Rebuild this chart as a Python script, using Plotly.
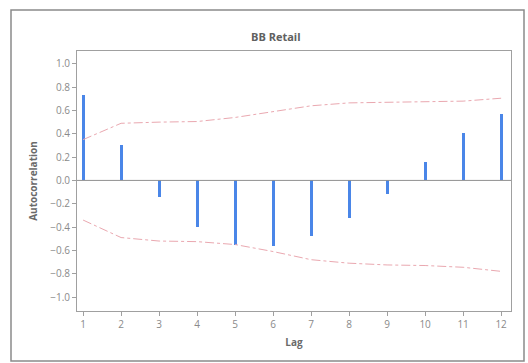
import plotly.graph_objects as go

lags = [1, 2, 3, 4, 5, 6, 7, 8, 9, 10, 11, 12]
acf = [0.73, 0.30, -0.14, -0.40, -0.55, -0.56, -0.48, -0.32, -0.12, 0.16, 0.41, 0.57]
upper = [0.35, 0.49, 0.50, 0.505, 0.54, 0.59, 0.64, 0.665, 0.67, 0.68, 0.68, 0.705]
lower = [-0.34, -0.49, -0.52, -0.525, -0.55, -0.61, -0.68, -0.71, -0.725, -0.73, -0.745, -0.78]
y_ticks = [-1.0, -0.8, -0.6, -0.4, -0.2, 0.0, 0.2, 0.4, 0.6, 0.8, 1.0]

FONT = "Open Sans"
fig = go.Figure()
fig.add_trace(go.Bar(x=lags, y=acf, width=0.075, marker=dict(color="#4a86e8", line=dict(width=0)),
                     showlegend=False))
band_style = dict(color="#eaa8b0", width=1, dash="dashdot")
fig.add_trace(go.Scatter(x=lags, y=upper, mode="lines", line=band_style, showlegend=False))
fig.add_trace(go.Scatter(x=lags, y=lower, mode="lines", line=band_style, showlegend=False))

W, H = 528, 363
L, R, T, B = 77, 17, 51, 52
pw, ph = W - L - R, H - T - B

def px(x):
    return (x - L) / pw

def py(y):
    return (H - B - y) / ph

axis_common = dict(showline=True, linecolor="#a0a0a0", linewidth=1, mirror=True, showgrid=False,
                   ticks="outside", ticklen=4, tickcolor="#a0a0a0",
                   tickfont=dict(family=FONT, size=10, color="#8a8a8a"), zeroline=False)

fig.update_layout(
    width=W, height=H,
    margin=dict(l=L, r=R, t=T, b=B),
    paper_bgcolor="white", plot_bgcolor="white",
    bargap=0,
    xaxis=dict(range=[0.84, 12.26], tickvals=lags, **axis_common,
               title=dict(text="<b>Lag</b>", font=dict(family=FONT, size=10, color="#6a6a6a"), standoff=8)),
    yaxis=dict(range=[-1.12, 1.11], tickvals=y_ticks, tickformat=".1f", **axis_common,
               title=dict(text="<b>Autocorrelation</b>", font=dict(family=FONT, size=10, color="#6a6a6a"), standoff=10)),
    shapes=[
        dict(type="line", xref="paper", yref="y", x0=0, x1=1, y0=0, y1=0,
             line=dict(color="#909090", width=1)),
        dict(type="rect", xref="paper", yref="paper", x0=px(11), x1=px(524), y0=py(361), y1=py(10),
             line=dict(color="#8a8a8a", width=1.5), layer="below"),
    ],
    annotations=[
        dict(text="<b>BB Retail</b>", xref="paper", yref="paper", x=px(276), y=py(36),
             showarrow=False, font=dict(family=FONT, size=11, color="#606060"),
             xanchor="center", yanchor="middle"),
    ],
)

fig.write_html("out.html")
